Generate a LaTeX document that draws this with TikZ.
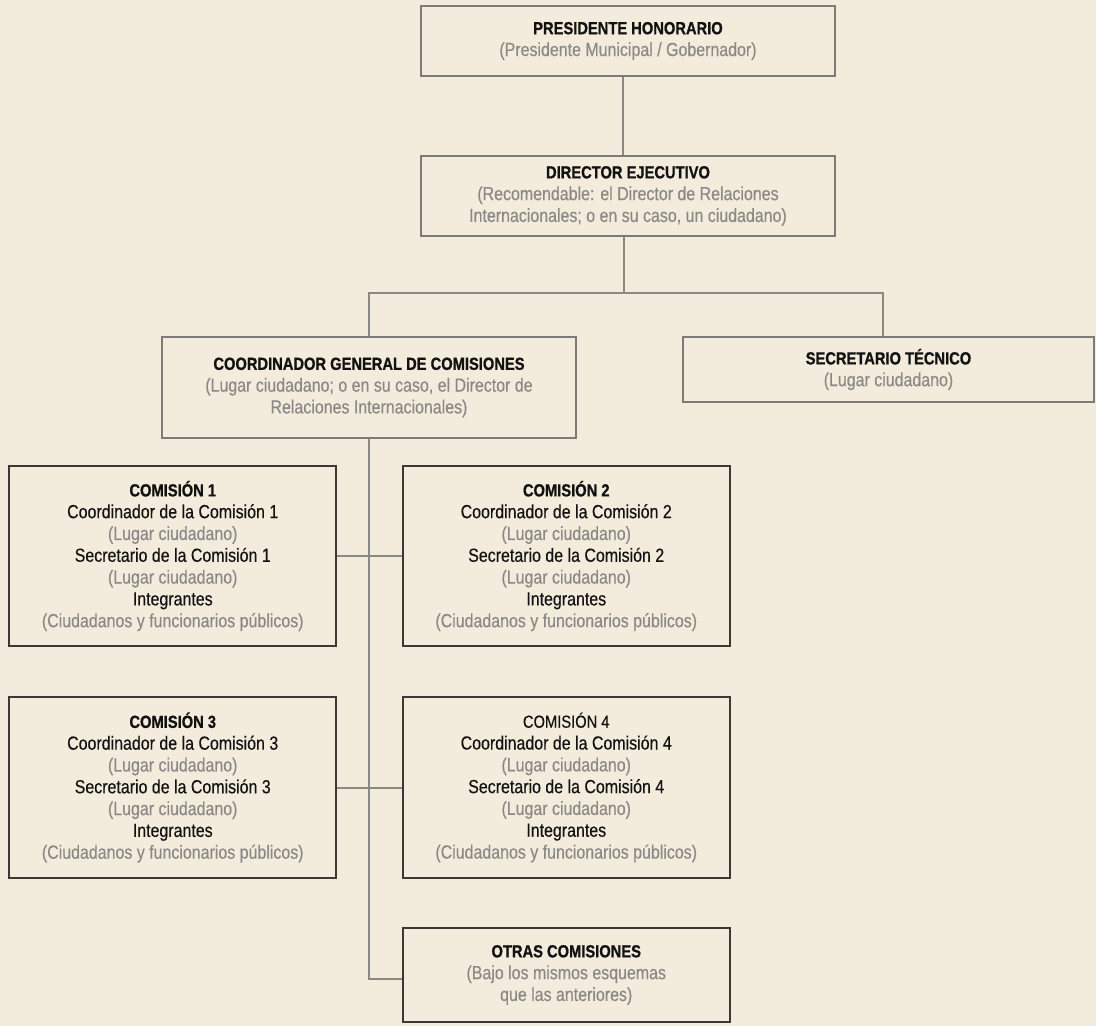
\documentclass[tikz,border=0pt]{standalone}
\usepackage{fontspec}
\setmainfont{Liberation Sans}[FakeStretch=0.84, UprightFeatures={FakeBold=0.3}, BoldFeatures={FakeBold=0.8}]
\definecolor{fondo}{HTML}{F3ECDC}
\definecolor{bordogrigio}{HTML}{7C7B78}
\definecolor{bordoscuro}{HTML}{3A3936}
\definecolor{lineagrigia}{HTML}{8A8984}
\definecolor{testogrigio}{HTML}{8A8985}
\definecolor{testonero}{HTML}{121212}
\newcommand{\titolo}[1]{{\fontsize{17.5}{21.8}\selectfont\bfseries #1}}
\begin{document}
\begin{tikzpicture}[x=1pt,y=-1pt,
    every node/.style={font=\fontsize{19}{21.8}\selectfont, text=testonero, align=center, inner sep=0pt},
    capo/.style={draw=bordogrigio, line width=1.7pt},
    comm/.style={draw=bordoscuro, line width=2.2pt, minimum width=327pt, minimum height=180pt},
    linea/.style={draw=lineagrigia, line width=2pt}]

        % Sfondo
        \fill[fondo] (0,0) rectangle (1096,1026);

        % Vertici
        \node[capo, minimum width=414pt, minimum height=70pt] (pres) at (628,41)
            {\titolo{PRESIDENTE HONORARIO}\\
             \textcolor{testogrigio}{(Presidente Municipal / Gobernador)}};
        \node[capo, minimum width=414pt, minimum height=80pt] (dir) at (628,196)
            {\titolo{DIRECTOR EJECUTIVO}\\
             \textcolor{testogrigio}{(Recomendable: el Director de Relaciones}\\
             \textcolor{testogrigio}{Internacionales; o en su caso, un ciudadano)}};
        \node[capo, minimum width=414pt, minimum height=101pt] (coord) at (369,387.5)
            {\titolo{COORDINADOR GENERAL DE COMISIONES}\\
             \textcolor{testogrigio}{(Lugar ciudadano; o en su caso, el Director de}\\
             \textcolor{testogrigio}{Relaciones Internacionales)}};
        \node[capo, minimum width=411pt, minimum height=65pt] (sec) at (888.5,369.5)
            {\titolo{SECRETARIO TÉCNICO}\\
             \textcolor{testogrigio}{(Lugar ciudadano)}};

        % Comisiones
        \node[comm] (com1) at (172.75,556)
            {\titolo{COMISIÓN 1}\\
             Coordinador de la Comisión 1\\
             \textcolor{testogrigio}{(Lugar ciudadano)}\\
             Secretario de la Comisión 1\\
             \textcolor{testogrigio}{(Lugar ciudadano)}\\
             Integrantes\\
             \textcolor{testogrigio}{(Ciudadanos y funcionarios públicos)}};
        \node[comm] (com2) at (566.25,556)
            {\titolo{COMISIÓN 2}\\
             Coordinador de la Comisión 2\\
             \textcolor{testogrigio}{(Lugar ciudadano)}\\
             Secretario de la Comisión 2\\
             \textcolor{testogrigio}{(Lugar ciudadano)}\\
             Integrantes\\
             \textcolor{testogrigio}{(Ciudadanos y funcionarios públicos)}};
        \node[comm, minimum height=181pt] (com3) at (172.75,787.5)
            {\titolo{COMISIÓN 3}\\
             Coordinador de la Comisión 3\\
             \textcolor{testogrigio}{(Lugar ciudadano)}\\
             Secretario de la Comisión 3\\
             \textcolor{testogrigio}{(Lugar ciudadano)}\\
             Integrantes\\
             \textcolor{testogrigio}{(Ciudadanos y funcionarios públicos)}};
        \node[comm, minimum height=181pt] (com4) at (566.25,787.5)
            {{\fontsize{17.5}{21.8}\selectfont COMISIÓN 4}\\
             Coordinador de la Comisión 4\\
             \textcolor{testogrigio}{(Lugar ciudadano)}\\
             Secretario de la Comisión 4\\
             \textcolor{testogrigio}{(Lugar ciudadano)}\\
             Integrantes\\
             \textcolor{testogrigio}{(Ciudadanos y funcionarios públicos)}};
        \node[comm, minimum height=94pt] (otras) at (566.25,975)
            {\titolo{OTRAS COMISIONES}\\
             \textcolor{testogrigio}{(Bajo los mismos esquemas}\\
             \textcolor{testogrigio}{que las anteriores)}};

        % Collegamenti
        \draw[linea] ([xshift=-5pt]pres.south) -- ([xshift=-5pt]dir.north);
        \draw[linea] ([xshift=-4pt]dir.south) -- ++(0,56) coordinate (snodo);
        \draw[linea] (coord.north) |- (snodo) -| ([xshift=-5.5pt]sec.north);
        \draw[linea] (coord.south) |- ([yshift=-4pt]otras.west); % Tronco
        \draw[linea] (com1.east) -- (com2.west);
        \draw[linea] (com3.east) -- (com4.west);
    \end{tikzpicture}
\end{document}
